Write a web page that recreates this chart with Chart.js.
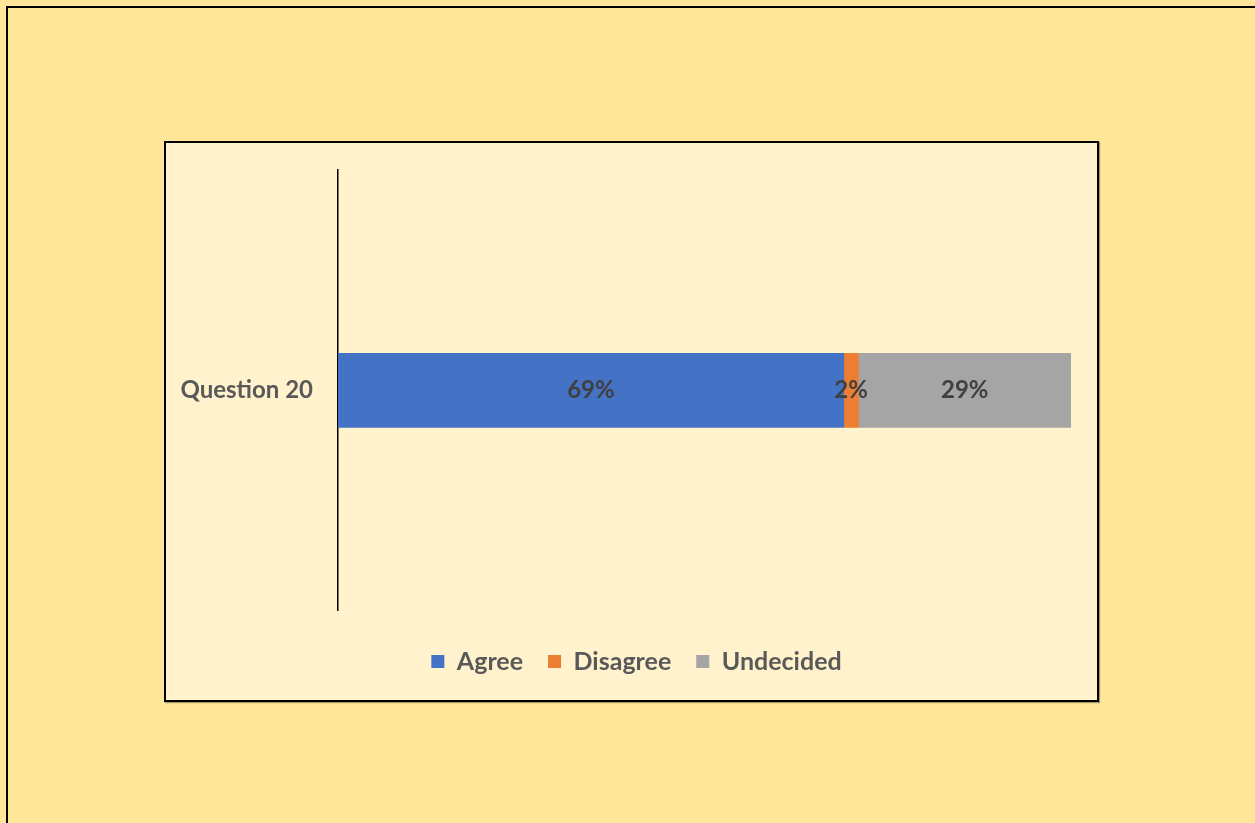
<!DOCTYPE html>
<html>
<head>
<meta charset="utf-8">
<script src="https://cdn.jsdelivr.net/npm/chart.js@4"></script>
<style>
  html, body { margin: 0; padding: 0; }
  body { width: 1255px; height: 823px; background: #FFE699; position: relative; overflow: hidden; }
  #frame { position: absolute; left: 6px; top: 6px; width: 1260px; height: 830px;
           border-top: 2px solid #000; border-left: 2px solid #000; box-sizing: border-box; }
  #box { position: absolute; left: 164px; top: 141px; width: 935px; height: 561px;
         background: #FFF2CC; border: 2px solid #000; box-sizing: border-box;
         box-shadow: 1px 1px 1px rgba(0,0,0,0.35); }
  #box canvas { display: block; }
</style>
</head>
<body>
<div id="frame"></div>
<div id="box"><canvas id="c" width="931" height="557"></canvas></div>
<script>
const categories = ['Question 20'];
const agree = [69];
const disagree = [2];
const undecided = [29];
const seriesNames = ['Agree', 'Disagree', 'Undecided'];
const seriesColors = ['#4472C4', '#ED7D31', '#A5A5A5'];

const FONT = 'Lato, "Open Sans", sans-serif';
const LEGEND_SHIFT = 18;

// value labels in the middle of each segment
const segmentLabels = {
  id: 'segmentLabels',
  afterDatasetsDraw(chart) {
    const ctx = chart.ctx;
    ctx.save();
    ctx.font = 'bold 24px ' + FONT;
    ctx.fillStyle = '#404040';
    ctx.textAlign = 'center';
    ctx.textBaseline = 'middle';
    chart.data.datasets.forEach((ds, i) => {
      chart.getDatasetMeta(i).data.forEach((bar, j) => {
        const cx = (bar.x + bar.base) / 2;
        ctx.fillText(ds.data[j] + '%', cx, bar.y);
      });
    });
    ctx.restore();
  }
};

// nudge the legend row a little to the right of the canvas centre
const legendNudge = {
  id: 'legendNudge',
  afterLayout(chart) {
    if (chart.legend) {
      chart.legend.left += LEGEND_SHIFT;
      chart.legend.right += LEGEND_SHIFT;
    }
  }
};

new Chart(document.getElementById('c'), {
  type: 'bar',
  data: {
    labels: categories,
    datasets: [agree, disagree, undecided].map((d, i) => ({
      label: seriesNames[i],
      data: d,
      backgroundColor: seriesColors[i],
      borderWidth: 0,
      barThickness: 74
    }))
  },
  options: {
    indexAxis: 'y',
    responsive: false,
    animation: false,
    layout: { padding: { left: 0, top: 27, right: 26, bottom: 16 } },
    scales: {
      x: { stacked: true, min: 0, max: 100, display: false },
      y: {
        stacked: true,
        grid: { display: false, drawTicks: false },
        border: { display: true, color: '#000', width: 1.5 },
        ticks: { color: '#595959', font: { family: FONT, size: 24, weight: 'bold' }, padding: 25 },
        afterFit(scale) {
          scale.width = 172;
          scale.paddingTop = 0;
          scale.paddingBottom = 0;
        }
      }
    },
    plugins: {
      tooltip: { enabled: false },
      legend: {
        position: 'bottom',
        title: { display: true, text: '', font: { size: 1 }, padding: { top: 12, bottom: 0 } },
        labels: {
          boxWidth: 13, boxHeight: 13, padding: 25,
          color: '#595959',
          font: { family: FONT, size: 25, weight: 'bold' }
        }
      }
    }
  },
  plugins: [segmentLabels, legendNudge]
});
</script>
</body>
</html>
